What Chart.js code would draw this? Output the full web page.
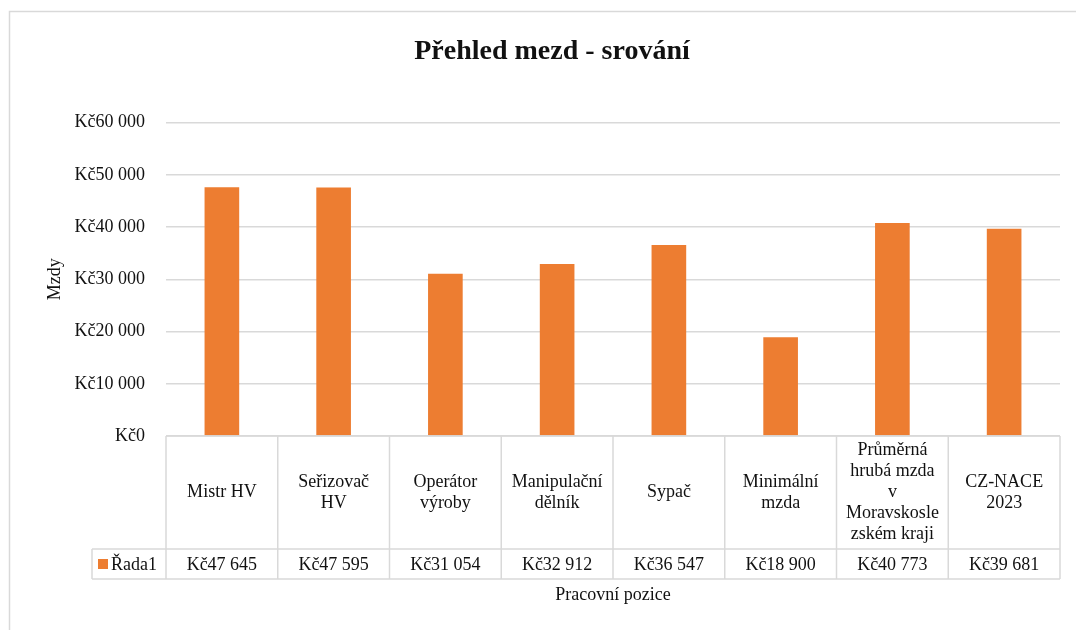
<!DOCTYPE html>
<html>
<head>
<meta charset="utf-8">
<script src="https://cdn.jsdelivr.net/npm/chart.js@4/dist/chart.umd.min.js"></script>
<style>
  body { margin: 0; background: #fff; }
  canvas { display: block; }
</style>
</head>
<body>
<canvas id="myChart" width="1076" height="630"></canvas>
<script>
var categories = [
  ["Mistr HV"],
  ["Seřizovač", "HV"],
  ["Operátor", "výroby"],
  ["Manipulační", "dělník"],
  ["Sypač"],
  ["Minimální", "mzda"],
  ["Průměrná", "hrubá mzda", "v", "Moravskosle", "zském kraji"],
  ["CZ-NACE", "2023"]
];
var mzdy = [47645, 47595, 31054, 32912, 36547, 18900, 40773, 39681];
var seriesName = "Řada1";
var barColor = "#ED7D31";
var lineColor = "#d9d9d9";
var textColor = "#111";
var serif = "'Liberation Serif', 'Times New Roman', serif";

function kc(n) {
  return "Kč" + String(n).replace(/\B(?=(\d{3})+(?!\d))/g, " ");
}

// ramecek grafu + tabulka dat pod osou
var tablePlugin = {
  id: "dataTable",
  beforeDraw: function (chart) {
    var ctx = chart.ctx;
    ctx.save();
    ctx.strokeStyle = lineColor;
    ctx.lineWidth = 1.5;
    ctx.beginPath();
    ctx.moveTo(9.5, 640);
    ctx.lineTo(9.5, 11.5);
    ctx.lineTo(1090, 11.5);
    ctx.stroke();
    ctx.restore();
  },
  afterDraw: function (chart) {
    var ctx = chart.ctx;
    var x = chart.scales.x;
    var area = chart.chartArea;
    var top = area.bottom;
    var mid = 549;
    var bot = 579;
    var legLeft = 92;
    var w = x.getPixelForValue(1) - x.getPixelForValue(0);

    ctx.save();
    ctx.strokeStyle = lineColor;
    ctx.lineWidth = 1.5;
    ctx.beginPath();
    ctx.moveTo(area.left, top);
    ctx.lineTo(area.right, top);
    ctx.moveTo(legLeft, mid);
    ctx.lineTo(area.right, mid);
    ctx.moveTo(legLeft, bot);
    ctx.lineTo(area.right, bot);
    ctx.moveTo(legLeft, mid);
    ctx.lineTo(legLeft, bot);
    for (var i = 0; i <= categories.length; i++) {
      var bx = x.getPixelForValue(0) - w / 2 + i * w;
      ctx.moveTo(bx, top);
      ctx.lineTo(bx, bot);
    }
    ctx.stroke();

    ctx.fillStyle = textColor;
    ctx.font = "18px " + serif;
    ctx.textAlign = "center";
    ctx.textBaseline = "middle";
    var lh = 21;
    var cy = (top + mid) / 2;
    categories.forEach(function (lines, i) {
      var cx = x.getPixelForValue(i);
      var y0 = cy - (lines.length - 1) * lh / 2;
      lines.forEach(function (t, j) {
        ctx.fillText(t, cx, y0 + j * lh);
      });
      ctx.fillText(kc(mzdy[i]), cx, (mid + bot) / 2 + 1);
    });

    // legenda v tabulce
    ctx.fillStyle = barColor;
    ctx.fillRect(98, 559, 10, 10);
    ctx.fillStyle = textColor;
    ctx.textAlign = "left";
    ctx.fillText(seriesName, 111, (mid + bot) / 2 + 1);
    ctx.restore();
  }
};

new Chart("myChart", {
  type: "bar",
  data: {
    labels: categories,
    datasets: [{
      label: seriesName,
      data: mzdy,
      backgroundColor: barColor,
      categoryPercentage: 1,
      barPercentage: 0.31
    }]
  },
  options: {
    responsive: false,
    animation: false,
    devicePixelRatio: 1,
    layout: { padding: { left: 44, right: 16, top: 0, bottom: 0 } },
    plugins: {
      legend: { display: false },
      tooltip: { enabled: false },
      title: {
        display: true,
        text: "Přehled mezd - srování",
        color: textColor,
        font: { family: serif, size: 28, weight: "bold", lineHeight: 1.2 },
        padding: { top: 35, bottom: 54 }
      }
    },
    scales: {
      x: {
        grid: { display: false },
        border: { display: false },
        ticks: { display: false },
        title: {
          display: true,
          text: "Pracovní pozice",
          color: textColor,
          font: { family: serif, size: 18, lineHeight: 1.2 },
          padding: { top: 0, bottom: 24 }
        },
        afterFit: function (s) { s.height = 194; }
      },
      y: {
        min: 0,
        max: 60000,
        border: { display: false },
        grid: { color: lineColor, lineWidth: 1.5, drawTicks: false },
        ticks: {
          stepSize: 10000,
          padding: 21,
          color: textColor,
          font: { family: serif, size: 18 },
          callback: function (v) { return kc(v); }
        },
        title: {
          display: true,
          text: "Mzdy",
          color: textColor,
          font: { family: serif, size: 18, lineHeight: 1.2 },
          padding: { top: 0, bottom: 0 }
        },
        afterFit: function (s) { s.width = 122; }
      }
    }
  },
  plugins: [tablePlugin]
});
</script>
</body>
</html>
